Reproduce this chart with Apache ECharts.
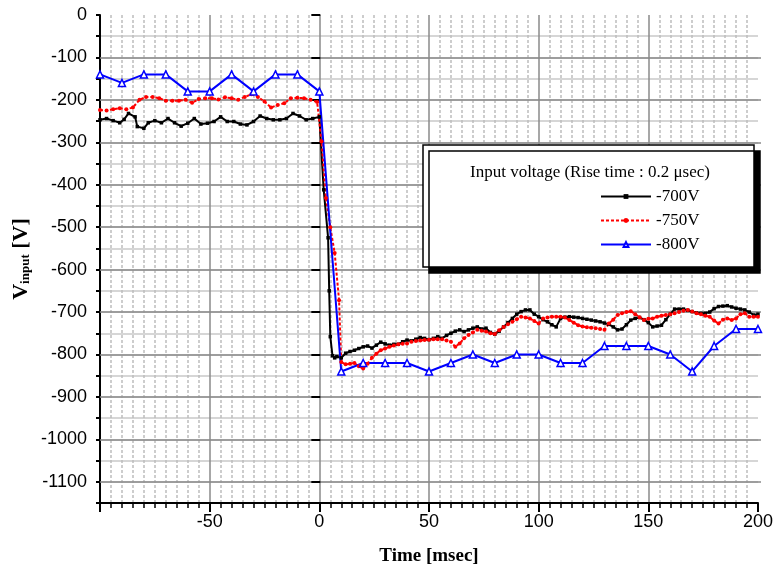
<!DOCTYPE html>
<html>
<head>
<meta charset="utf-8">
<script src="https://cdn.jsdelivr.net/npm/echarts@6/dist/echarts.min.js"></script>
<style>html,body{margin:0;padding:0;background:#fff}#c{width:776px;height:573px}</style>
</head>
<body>
<div id="c"></div>
<script>
// ---- data ----
const blackT = [-100,-97,-94,-91,-89,-87,-84,-83,-80,-78,-75,-72,-69,-66,-63,-60,-57,-54,-51,-48,-45,-42,-39,-36,-33,-30,-27,-24,-21,-18,-15,-12,-9,-6,-3,0,
  2,4,4.5,5,6,7,8,10,12,14,16,18,20,22,24,26,28,30,32,34,36,38,40,42,44,46,48,50,52,54,56,58,60,62,64,66,68,70,72,74,76,78,80,82,84,86,88,90,92,94,96,98,100,
  102,104,106,108,110,112,114,116,118,120,122,124,126,128,130,132,134,136,138,140,142,144,146,148,150,152,154,156,158,160,162,164,166,168,170,172,174,176,178,180,182,184,186,188,190,192,194,196,198,200];
const blackV = [-247,-244,-249,-254,-246,-232,-240,-263,-267,-254,-249,-254,-244,-254,-262,-255,-244,-257,-255,-251,-240,-251,-251,-257,-259,-251,-238,-244,-247,-247,-244,-232,-238,-247,-244,-240,
  -412,-525,-650,-758,-803,-808,-805,-808,-797,-793,-790,-786,-782,-780,-785,-778,-771,-775,-778,-776,-776,-770,-766,-768,-764,-760,-762,-765,-762,-758,-762,-755,-750,-745,-742,-746,-742,-738,-735,-740,-738,-748,-752,-745,-735,-725,-715,-705,-699,-695,-695,-705,-711,
  -718,-723,-730,-735,-715,-712,-711,-712,-713,-715,-717,-719,-721,-723,-726,-729,-735,-742,-740,-730,-719,-715,-713,-718,-725,-735,-733,-731,-718,-705,-693,-693,-693,-696,-699,-702,-703,-703,-700,-692,-687,-686,-685,-688,-691,-693,-695,-700,-707,-705];

const redT = [-100,-97,-94,-91,-88,-85,-82,-79,-76,-73,-70,-67,-64,-61,-58,-55,-52,-49,-46,-43,-40,-37,-34,-31,-28,-25,-22,-19,-16,-13,-10,-7,-4,-1,
  1,3,5,7,9,10,12,14,16,18,20,22,24,26,28,30,32,34,36,38,40,42,44,46,48,50,52,54,56,58,60,62,64,66,68,70,72,74,76,78,80,82,84,86,88,90,92,94,96,98,100,
  102,104,106,108,110,112,114,116,118,120,122,124,126,128,130,132,134,136,138,140,142,144,146,148,150,152,154,156,158,160,162,164,166,168,170,172,174,176,178,180,182,184,186,188,190,192,194,196,198,200];
const redV = [-224,-225,-222,-220,-222,-218,-200,-193,-193,-196,-202,-202,-202,-200,-207,-198,-196,-196,-199,-194,-196,-200,-193,-187,-193,-204,-218,-212,-208,-196,-195,-196,-200,-205,
  -298,-431,-500,-561,-672,-818,-823,-822,-820,-828,-833,-822,-808,-798,-790,-786,-782,-779,-776,-775,-774,-770,-768,-767,-766,-765,-764,-764,-764,-767,-770,-782,-774,-762,-754,-748,-742,-744,-746,-750,-752,-743,-735,-729,-723,-717,-711,-713,-715,-721,-727,
  -715,-713,-711,-711,-711,-713,-719,-725,-731,-734,-736,-737,-738,-740,-742,-727,-718,-707,-703,-700,-698,-705,-712,-719,-716,-715,-711,-709,-707,-705,-703,-700,-697,-695,-699,-703,-705,-709,-711,-720,-727,-718,-715,-719,-715,-705,-703,-711,-711,-711];

const blueT = [-100,-90,-80,-70,-60,-50,-40,-30,-20,-10,0,10,20,30,40,50,60,70,80,90,100,110,120,130,140,150,160,170,180,190,200];
const blueV = [-140,-160,-140,-140,-180,-180,-140,-180,-140,-140,-180,-840,-820,-820,-820,-840,-820,-800,-820,-800,-800,-820,-820,-780,-780,-780,-800,-840,-780,-740,-740];

const seriesNames = ['-700V','-750V','-800V'];
const legendTitle = 'Input voltage (Rise time : 0.2 \u03bcsec)';
const xTitle = 'Time [msec]';

function zip(t, v){ return t.map((x,i)=>[x, v[i]]); }

const chart = echarts.init(document.getElementById('c'), null, {renderer:'canvas'});
const sans = 'Liberation Sans, Arial, sans-serif';
const serif = 'Liberation Serif, Times New Roman, serif';
const darkGrid = '#8a8a8a', lightGrid = '#c8c8c8';

chart.setOption({
  animation:false,
  backgroundColor:'#fff',
  grid:[
    {left:100, right:15, top:15, bottom:70},
    {left:100, right:15, top:15, bottom:91.3}
  ],
  xAxis:[
    {type:'value', gridIndex:0, min:-100, max:200, interval:50,
     axisLine:{show:true, onZero:false, lineStyle:{color:'#000', width:2}},
     axisTick:{show:true, length:9, lineStyle:{color:'#000', width:2}},
     minorTick:{show:true, splitNumber:10, length:5, lineStyle:{color:'#000', width:1.5}},
     axisLabel:{color:'#000', fontFamily:sans, fontSize:18, margin:10,
       formatter:v=> v===-100 ? '' : String(v)},
     splitLine:{show:true, showMaxLine:false, lineStyle:{color:darkGrid, width:1.5}},
     minorSplitLine:{show:true, lineStyle:{color:'#bdbdbd', width:1.5, type:[3,2]}},
     name:xTitle, nameLocation:'middle', nameGap:44,
     nameTextStyle:{color:'#000', fontFamily:serif, fontWeight:'bold', fontSize:19}
    },
    {type:'value', gridIndex:1, min:-100, max:200, show:false}
  ],
  yAxis:[
    {type:'value', gridIndex:0, min:-1150, max:0, interval:50,
     axisLine:{show:true, onZero:false, lineStyle:{color:'#000', width:2}},
     axisTick:{show:true, length:4, lineStyle:{color:'#000', width:2}},
     axisLabel:{show:false},
     splitLine:{show:true, showMaxLine:false, showMinLine:false, lineStyle:{color:lightGrid, width:1.5}},
     name:'{v|V}{s|input}{v| [V]}', nameLocation:'middle', nameGap:68, nameRotate:90,
     nameTextStyle:{color:'#000', fontFamily:serif, fontWeight:'bold',
       rich:{v:{fontFamily:serif, fontWeight:'bold', fontSize:22, color:'#000', verticalAlign:'bottom', lineHeight:25},
             s:{fontFamily:serif, fontWeight:'bold', fontSize:13, color:'#000', verticalAlign:'bottom', lineHeight:17}}}
    },
    {type:'value', gridIndex:1, min:-1100, max:0, interval:100, z:1,
     axisLine:{show:false},
     axisTick:{show:true, length:9, lineStyle:{color:'#000', width:2}},
     axisLabel:{color:'#000', fontFamily:sans, fontSize:18, margin:13, formatter:v=>String(v)},
     splitLine:{show:true, showMaxLine:false, lineStyle:{color:darkGrid, width:1.5}}
    }
  ],
  legend:{
    data:seriesNames, orient:'vertical', left:595, top:183, z:60,
    itemWidth:50, itemHeight:6, itemGap:7, padding:5,
    textStyle:{fontFamily:serif, fontSize:17, color:'#000'},
    selectedMode:false
  },
  graphic:[
    {type:'rect', z:50, shape:{x:423, y:145, width:331, height:122},
     style:{fill:'#fff', stroke:'#000', lineWidth:1.5, shadowColor:'#000', shadowOffsetX:6, shadowOffsetY:6, shadowBlur:0}},
    {type:'text', z:55, x:590, y:173,
     style:{text:legendTitle, fontFamily:serif, fontSize:17, fill:'#000', textAlign:'center', textVerticalAlign:'middle'}}
  ],
  series:[
    {name:'-700V', type:'line', xAxisIndex:0, yAxisIndex:0, data:zip(blackT, blackV),
     symbol:'rect', symbolSize:3.5, showAllSymbol:true,
     lineStyle:{color:'#000', width:2}, itemStyle:{color:'#000'}},
    {name:'-750V', type:'line', xAxisIndex:0, yAxisIndex:0, data:zip(redT, redV),
     symbol:'circle', symbolSize:4, showAllSymbol:true,
     lineStyle:{color:'#ff0000', width:2, type:[3,2]}, itemStyle:{color:'#ff0000'}},
    {name:'-800V', type:'line', xAxisIndex:0, yAxisIndex:0, data:zip(blueT, blueV),
     symbol:'triangle', symbolSize:7, showAllSymbol:true,
     lineStyle:{color:'#0000ff', width:2}, itemStyle:{color:'#fff', borderColor:'#0000ff', borderWidth:1.5}}
  ]
});
</script>
</body>
</html>
